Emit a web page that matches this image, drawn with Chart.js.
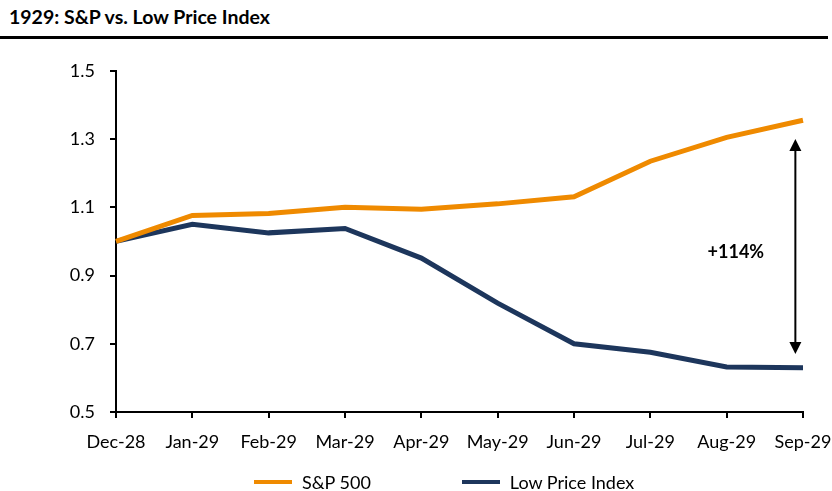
<!DOCTYPE html>
<html>
<head>
<meta charset="utf-8">
<script src="https://cdn.jsdelivr.net/npm/chart.js@4"></script>
<style>
  body { margin: 0; background: #fff; width: 832px; height: 491px; position: relative; overflow: hidden; font-family: Lato, sans-serif; }
  #title { position: absolute; left: 9px; top: 5px; font-weight: bold; font-size: 19.5px; color: #000; }
  #rule { position: absolute; left: 0; top: 36px; width: 828px; height: 3px; background: #000; }
  #wrap { position: absolute; left: 0; top: 45px; width: 832px; height: 446px; }
  #legend { position: absolute; left: 254px; top: 470px; display: flex; align-items: center; font-size: 18px; line-height: 24px; color: #000; }
  #legend .item { display: flex; align-items: center; margin-right: 91px; }
  #legend .swatch { width: 38px; height: 4px; margin-right: 10px; }
</style>
</head>
<body>
<div id="title">1929: S&amp;P vs. Low Price Index</div>
<div id="rule"></div>
<div id="wrap"><canvas id="myChart"></canvas></div>
<div id="legend"></div>
<script>
// data
const months = ['Dec-28', 'Jan-29', 'Feb-29', 'Mar-29', 'Apr-29', 'May-29', 'Jun-29', 'Jul-29', 'Aug-29', 'Sep-29'];
const sp500 = [1.00, 1.076, 1.082, 1.10, 1.094, 1.11, 1.131, 1.235, 1.305, 1.355];
const lowPrice = [1.00, 1.05, 1.025, 1.038, 0.951, 0.819, 0.70, 0.675, 0.632, 0.630];
const yTicks = [0.5, 0.7, 0.9, 1.1, 1.3, 1.5];
const gapLabel = '+114%';

// double arrow between the two lines near the end
const arrowPlugin = {
    id: 'arrow',
    afterDatasetsDraw(chart) {
        const ctx = chart.ctx;
        const x = chart.scales.x.getPixelForValue(8.9);
        const yTop = chart.scales.y.getPixelForValue(1.30);
        const yBot = chart.scales.y.getPixelForValue(0.67);
        ctx.save();
        ctx.strokeStyle = '#000';
        ctx.fillStyle = '#000';
        ctx.lineWidth = 2;
        ctx.beginPath();
        ctx.moveTo(x, yTop + 8);
        ctx.lineTo(x, yBot - 8);
        ctx.stroke();
        ctx.beginPath();
        ctx.moveTo(x, yTop);
        ctx.lineTo(x - 6, yTop + 12);
        ctx.lineTo(x + 6, yTop + 12);
        ctx.closePath();
        ctx.fill();
        ctx.beginPath();
        ctx.moveTo(x, yBot);
        ctx.lineTo(x - 6, yBot - 12);
        ctx.lineTo(x + 6, yBot - 12);
        ctx.closePath();
        ctx.fill();
        ctx.font = 'bold 18px Lato, sans-serif';
        ctx.textAlign = 'center';
        ctx.textBaseline = 'middle';
        ctx.fillText(gapLabel, chart.scales.x.getPixelForValue(8.12), chart.scales.y.getPixelForValue(0.968));
        ctx.restore();
    }
};

// html legend built from the chart's own legend items
const htmlLegend = {
    id: 'htmlLegend',
    afterUpdate(chart) {
        const box = document.getElementById('legend');
        box.innerHTML = '';
        chart.options.plugins.legend.labels.generateLabels(chart).forEach(item => {
            const el = document.createElement('div');
            el.className = 'item';
            const sw = document.createElement('span');
            sw.className = 'swatch';
            sw.style.background = item.strokeStyle;
            const txt = document.createElement('span');
            txt.textContent = item.text;
            el.appendChild(sw);
            el.appendChild(txt);
            box.appendChild(el);
        });
    }
};

const ctx = document.getElementById('myChart');

new Chart(ctx, {
    type: 'line',
    data: {
        labels: months,
        datasets: [{
            label: 'S&P 500',
            data: sp500,
            borderColor: '#EF8A00',
            backgroundColor: '#EF8A00',
            borderWidth: 5,
            pointRadius: 0,
            tension: 0
        }, {
            label: 'Low Price Index',
            data: lowPrice,
            borderColor: '#1D365C',
            backgroundColor: '#1D365C',
            borderWidth: 5,
            pointRadius: 0,
            tension: 0
        }]
    },
    options: {
        responsive: true,
        maintainAspectRatio: false,
        animation: false,
        layout: { padding: { top: 25, right: 29, left: 0, bottom: 29 } },
        plugins: {
            tooltip: { enabled: false },
            legend: { display: false }
        },
        scales: {
            x: {
                offset: false,
                grid: { drawOnChartArea: false, drawTicks: true, tickLength: 6, color: '#000', lineWidth: 2 },
                border: { color: '#000', width: 2 },
                ticks: { color: '#000', maxRotation: 0, autoSkip: false, padding: 13, font: { family: 'Lato, sans-serif', size: 18 } },
                afterFit(scale) {
                    scale.height = 50;
                    scale.paddingLeft = 0;
                    scale.paddingRight = 0;
                }
            },
            y: {
                min: 0.5,
                max: 1.5,
                afterBuildTicks(scale) { scale.ticks = yTicks.map(v => ({ value: v })); },
                grid: { drawOnChartArea: false, drawTicks: true, tickLength: 6, color: '#000', lineWidth: 2 },
                border: { color: '#000', width: 2 },
                ticks: {
                    color: '#000',
                    padding: 15,
                    font: { family: 'Lato, sans-serif', size: 18 },
                    callback: v => Number(v).toFixed(1)
                },
                afterFit(scale) { scale.width = 116; }
            }
        }
    },
    plugins: [arrowPlugin, htmlLegend]
});
</script>
</body>
</html>
